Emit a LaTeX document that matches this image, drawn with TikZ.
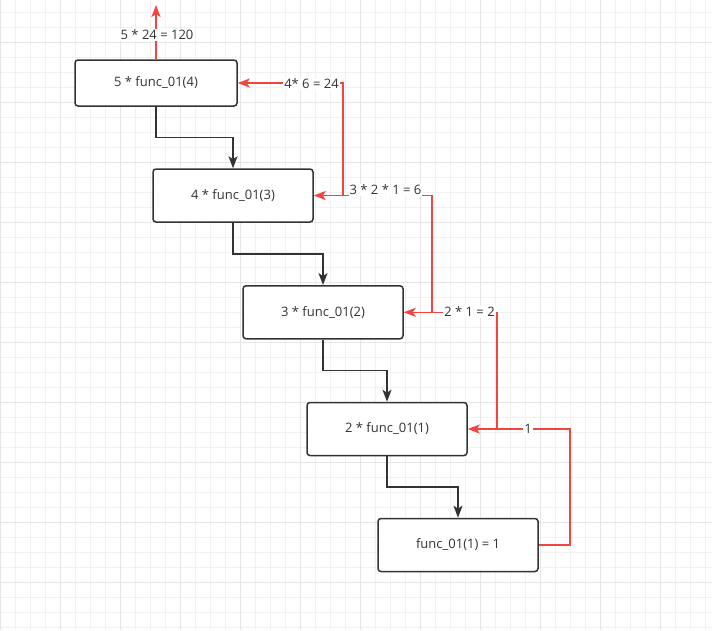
\documentclass[tikz,border=0pt]{standalone}
\usepackage{fontspec}
\setmainfont{Open Sans}
\usetikzlibrary{calc,positioning,arrows.meta}
\definecolor{ink}{HTML}{333333}
\definecolor{retred}{HTML}{F2453D}

\begin{document}
\begin{tikzpicture}[
    x=1pt, y=-1pt,
    font=\fontsize{13}{15}\selectfont,
    text=ink,
    % Node styles
    call/.style={draw=ink, line width=1.5pt, rounded corners=3pt, fill=white, minimum width=160pt, minimum height=53pt, inner sep=0pt},
    lbl/.style={fill=white, inner sep=1pt},
    flow/.style={-{Stealth[length=12pt, width=9pt, inset=3pt]}, line width=1.5pt, draw=ink},
    ret/.style={-{Stealth[length=12pt, width=9pt, inset=3pt]}, line width=1.5pt, draw=retred},
    minorgrid/.style={draw=gray!11, line width=0.6pt},
    majorgrid/.style={draw=gray!20, line width=0.6pt},
]
    \useasboundingbox (0,0) rectangle (712,630);

    % Background grid
    \fill[white] (0,0) rectangle (712,630);
    \begin{scope}
        \clip (0,0) rectangle (712,630);
        \begin{scope}[yshift=3pt]
            \draw[minorgrid, step=15pt] (0,-3) grid (712,633);
        \end{scope}
        \begin{scope}[yshift=18pt]
            \draw[majorgrid, step=60pt] (0,-18) grid (712,648);
        \end{scope}
    \end{scope}

    % Define nodes here
    \node[call, minimum width=162pt, minimum height=46pt] (b1) at (156,83) {5 * func\_01(4)};
    \node[call] (b2) at (233,195.5) {4 * func\_01(3)};
    \node[call] (b3) at (323,312.3) {3 * func\_01(2)};
    \node[call] (b4) at (387,429) {2 * func\_01(1)};
    \node[call] (b5) at (458,545) {func\_01(1) = 1};

    % Draw calls
    \foreach \a/\b in {b1/b2, b2/b3, b3/b4, b4/b5}
        \draw[flow] (\a.south) -- ($(\a.south)!.5!(\a.south|-\b.north)$) -| (\b.north);

    % Return values
    \coordinate (j4) at (497,429);
    \coordinate (j3) at (432,312.3);
    \coordinate (j2) at (343,195.5);
    \coordinate (top) at (156,5);
    \draw[ret] (b5.east) -- ++(31,0) |- (b4.east);
    \draw[ret] (j4) |- (b3.east);
    \draw[ret] (j3) |- (b2.east);
    \draw[ret] (j2) |- (b1.east);
    \draw[ret] (b1.north) -- (top);

    % Labels
    \node[lbl] (r1) at (528,429) {1};
    \node[lbl] (r2) at (469.5,312) {2 * 1 = 2};
    \node[lbl] (r6) at (385.5,190) {3 * 2 * 1 = 6};
    \node[lbl] (r24) at (311.5,84) {4* 6 = 24};
    \node[lbl] (r120) at (157,35) {5 * 24 = 120};

\end{tikzpicture}
\end{document}
